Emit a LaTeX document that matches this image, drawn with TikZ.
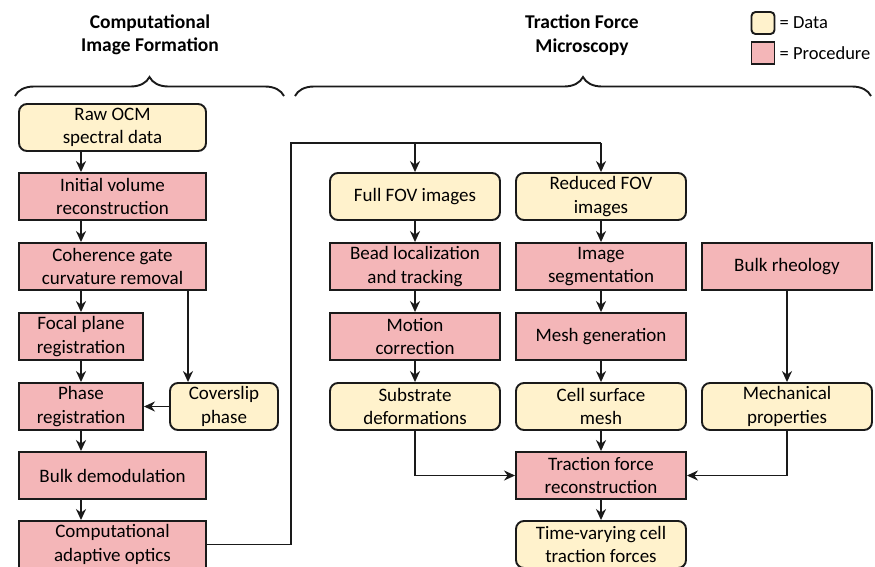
\documentclass[tikz,border=0pt]{standalone}
\usepackage{fontspec}
\setmainfont{Carlito}
\usetikzlibrary{arrows.meta,decorations.pathreplacing,calc}
\definecolor{datafill}{HTML}{FFF2CC}
\definecolor{procfill}{HTML}{F4B6B8}
\definecolor{edge}{HTML}{1A1A1A}
\tikzset{
  base/.style={draw=edge,line width=1.9pt,align=center,inner sep=0pt,
    font=\fontsize{19}{23.5}\selectfont,text=black},
  databox/.style={base,fill=datafill,rounded corners=8pt},
  procbox/.style={base,fill=procfill},
  arr/.style={draw=edge,line width=1.9pt,-{Stealth[length=11pt,width=10pt]}},
  ln/.style={draw=edge,line width=1.9pt},
  hdr/.style={align=center,font=\bfseries\fontsize{19.5}{23.5}\selectfont},
  brc/.style={draw=edge,line width=1.9pt,decorate,decoration={brace,amplitude=19pt}},
}
\begin{document}
\begin{tikzpicture}[x=1pt,y=-1pt]
\useasboundingbox (0,0) rectangle (875,566);
\clip (0,0) rectangle (875,566);
\fill[white] (0,0) rectangle (875,566);
% headers
\node[hdr] (h1) at (150,35) {Computational\\Image Formation};
\node[hdr] (h2) at (582,35) {Traction Force\\Microscopy};
\draw[brc] (15,96) -- (284,96);
\draw[brc] (295,96) -- (871,96);
% legend
\node[databox,minimum width=23pt,minimum height=22pt,rounded corners=4pt] (ld) at (763,23) {};
\node[procbox,minimum width=23pt,minimum height=22pt] (lp) at (763,53) {};
\node[anchor=west,font=\fontsize{18.5}{20}\selectfont,inner sep=4pt] (ldt) at (ld.east) {= Data};
\node[anchor=west,font=\fontsize{18.5}{20}\selectfont,inner sep=4pt] (lpt) at (lp.east) {= Procedure};
% left column
\tikzset{wide/.style={minimum width=187pt,minimum height=47pt},
         narrow/.style={minimum width=124pt,minimum height=47pt},
         mid/.style={minimum width=170pt,minimum height=47pt}}
\node[databox,wide] (raw) at (112.5,127.5) {Raw OCM\\spectral data};
\node[procbox,wide] (ivr) at (112.5,196.5) {Initial volume\\reconstruction};
\node[procbox,wide] (cgc) at (112.5,266.5) {Coherence gate\\curvature removal};
\node[procbox,narrow] (fpr) at (81,336.5) {Focal plane\\registration};
\node[procbox,narrow] (phr) at (81,406.5) {Phase\\registration};
\node[databox,minimum width=108pt,minimum height=47pt] (cov) at (224,406.5) {Coverslip\\phase};
\node[procbox,wide] (bdm) at (112.5,475.5) {Bulk demodulation};
\node[procbox,wide] (cao) at (112.5,544.5) {Computational\\adaptive optics};
\coordinate (cx) at (188,0);
\draw[arr] (raw.south -| fpr.center) -- (ivr.north -| fpr.center);
\draw[arr] (ivr.south -| fpr.center) -- (cgc.north -| fpr.center);
\draw[arr] (cgc.south -| fpr.center) -- (fpr.north);
\draw[arr] (fpr.south) -- (phr.north);
\draw[arr] (phr.south) -- (bdm.north -| phr.center);
\draw[arr] (bdm.south -| phr.center) -- (cao.north -| phr.center);
\draw[arr] (cgc.south -| cx) -- (cov.north -| cx);
\draw[arr] (cov.west) -- (phr.east);
% middle / right
\node[databox,mid] (ffov) at (415,196.5) {Full FOV images};
\node[databox,mid] (rfov) at (601,196.5) {Reduced FOV\\images};
\node[procbox,mid] (bead) at (415,266.5) {Bead localization\\and tracking};
\node[procbox,mid] (seg) at (601,266.5) {Image\\segmentation};
\node[procbox,mid] (rheo) at (787,266.5) {Bulk rheology};
\node[procbox,mid] (moc) at (415,336.5) {Motion\\correction};
\node[procbox,mid] (mesh) at (601,336.5) {Mesh generation};
\node[databox,mid] (sub) at (415,406.5) {Substrate\\deformations};
\node[databox,mid] (csm) at (601,406.5) {Cell surface\\mesh};
\node[databox,mid] (mech) at (787,406.5) {Mechanical\\properties};
\node[procbox,mid] (tfr) at (601,475.5) {Traction force\\reconstruction};
\node[databox,mid] (tvc) at (601,544.5) {Time-varying cell\\traction forces};
\coordinate (tl) at (291,143);
\coordinate (tr) at (601,143);
\draw[ln] (cao.east) -| (tl) -- (tr);
\draw[arr] (tr) -- (rfov.north);
\draw[arr] (ffov.north |- tl) -- (ffov.north);
\draw[arr] (ffov.south) -- (bead.north);
\draw[arr] (bead.south) -- (moc.north);
\draw[arr] (moc.south) -- (sub.north);
\draw[arr] (rfov.south) -- (seg.north);
\draw[arr] (seg.south) -- (mesh.north);
\draw[arr] (mesh.south) -- (csm.north);
\draw[arr] (rheo.south) -- (mech.north);
\draw[arr] (csm.south) -- (tfr.north);
\draw[arr] (sub.south) |- (tfr.west);
\draw[arr] (mech.south) |- (tfr.east);
\draw[arr] (tfr.south) -- (tvc.north);
\end{tikzpicture}
\end{document}
